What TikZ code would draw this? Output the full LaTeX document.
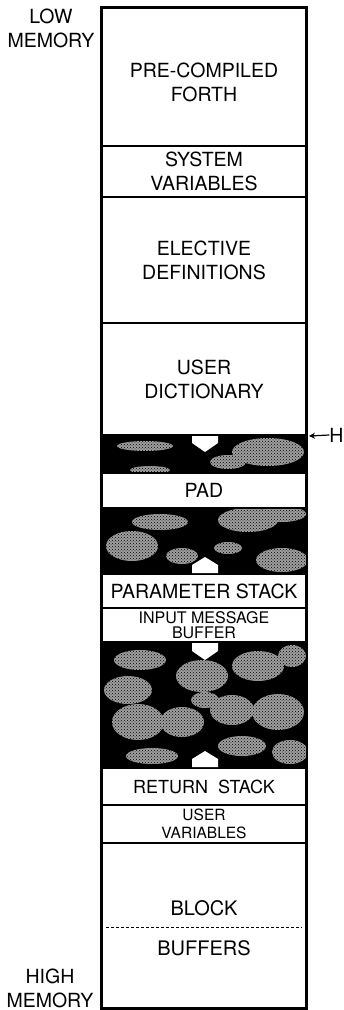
\documentclass[tikz,border=0pt]{standalone}
\usepackage{fontspec}
\setmainfont{TeX Gyre Heros}
\usetikzlibrary{arrows.meta,patterns}

\begin{document}
\begin{tikzpicture}[x=1pt, y=-1pt, >=Stealth,
    membox/.style={draw, fill=white, line width=1.2pt, minimum width=204pt,
      inner sep=0pt, align=center, font=\fontsize{19.5}{24}\selectfont},
    sidelabel/.style={align=center, inner sep=0pt, font=\fontsize{19.5}{24}\selectfont},
    blob/.style={fill=gray!75, postaction={pattern=crosshatch dots, pattern color=black}}]
  \useasboundingbox (0,0) rectangle (343,1010);
  % free space between the areas
  \fill[black] (102,435) rectangle (306,473);
  \fill[black] (102,508) rectangle (306,574);
  \fill[black] (102,642) rectangle (306,768);
  \begin{scope}
    \clip (102,435) rectangle (306,473) (102,508) rectangle (306,574)
          (102,642) rectangle (306,768);
    \foreach \x/\y/\rx/\ry in {145/446/28/5, 268/452/36/14, 228/462/18/7, 150/470/20/4,
        160/522/28/8, 248/520/30/12, 282/514/24/8, 132/546/26/15, 282/560/26/12,
        182/556/16/8, 228/548/14/6,
        140/660/26/10, 202/676/26/16, 258/666/26/15, 292/656/14/11, 128/690/24/14,
        138/722/26/18, 182/722/22/15, 232/710/22/15, 278/712/26/18, 242/746/24/10,
        290/752/18/12, 152/756/26/8, 205/700/14/8}
      \fill[blob] (\x,\y) ellipse [x radius=\rx, y radius=\ry];
  \end{scope}
  % memory areas
  \node[membox, minimum height=138pt,
        label={[sidelabel, yshift=-5pt]center:{PRE-COMPILED\\FORTH}}] (pcforth) at (204,77) {};
  \node[membox, minimum height=51pt] (sysvars) at (204,171.5) {SYSTEM\\VARIABLES};
  \node[membox, minimum height=126pt] (elective) at (204,260) {ELECTIVE\\DEFINITIONS};
  \node[membox, minimum height=112pt] (userdict) at (204,379) {USER\\DICTIONARY};
  \node[membox, minimum height=35pt] (pad) at (204,490.5) {PAD};
  \node[membox, minimum height=34pt] (pstack) at (204,591) {PARAMETER STACK};
  \node[membox, minimum height=34pt, font=\fontsize{16}{15}\selectfont] (inbuf)
        at (204,625) {INPUT MESSAGE\\BUFFER};
  \node[membox, minimum height=37pt, font=\fontsize{18}{20}\selectfont] (rstack)
        at (204,786.5) {RETURN\ \ STACK};
  \node[membox, minimum height=38pt, font=\fontsize{15.5}{18}\selectfont] (uservars)
        at (204,824) {USER\\VARIABLES};
  \node[membox, minimum height=165pt] (blockbuf) at (204,925.5) {};
  \node[sidelabel, font=\fontsize{20}{24}\selectfont] (blocktext) at (204,928)
        {BLOCK\\[16pt]BUFFERS};
  \draw[densely dashed, line width=0.8pt] (106,927) -- (302,927);
  % growth arrows
  \fill[white] (192,436) -- (192,443) -- (205,452) -- (218,443) -- (218,436) -- cycle;
  \fill[white] (192,573) -- (192,565) -- (205,557) -- (218,565) -- (218,573) -- cycle;
  \fill[white] (192,643) -- (192,651) -- (205,660) -- (218,651) -- (218,643) -- cycle;
  \fill[white] (192,767) -- (192,759) -- (205,751) -- (218,759) -- (218,767) -- cycle;
  \draw[line width=2pt] (pcforth.north west) rectangle (blockbuf.south east);
  % side labels
  \node[sidelabel] (lowmem) at (51,28) {LOW\\MEMORY};
  \node[sidelabel] (highmem) at (50,988) {HIGH\\MEMORY};
  \node[sidelabel] (hmark) at (336.5,435) {H};
  \coordinate (hpoint) at (309,436);
  \draw[-{Stealth[length=6pt,width=6pt]}, line width=1.2pt] (hmark.west) -- (hpoint);
\end{tikzpicture}
\end{document}
